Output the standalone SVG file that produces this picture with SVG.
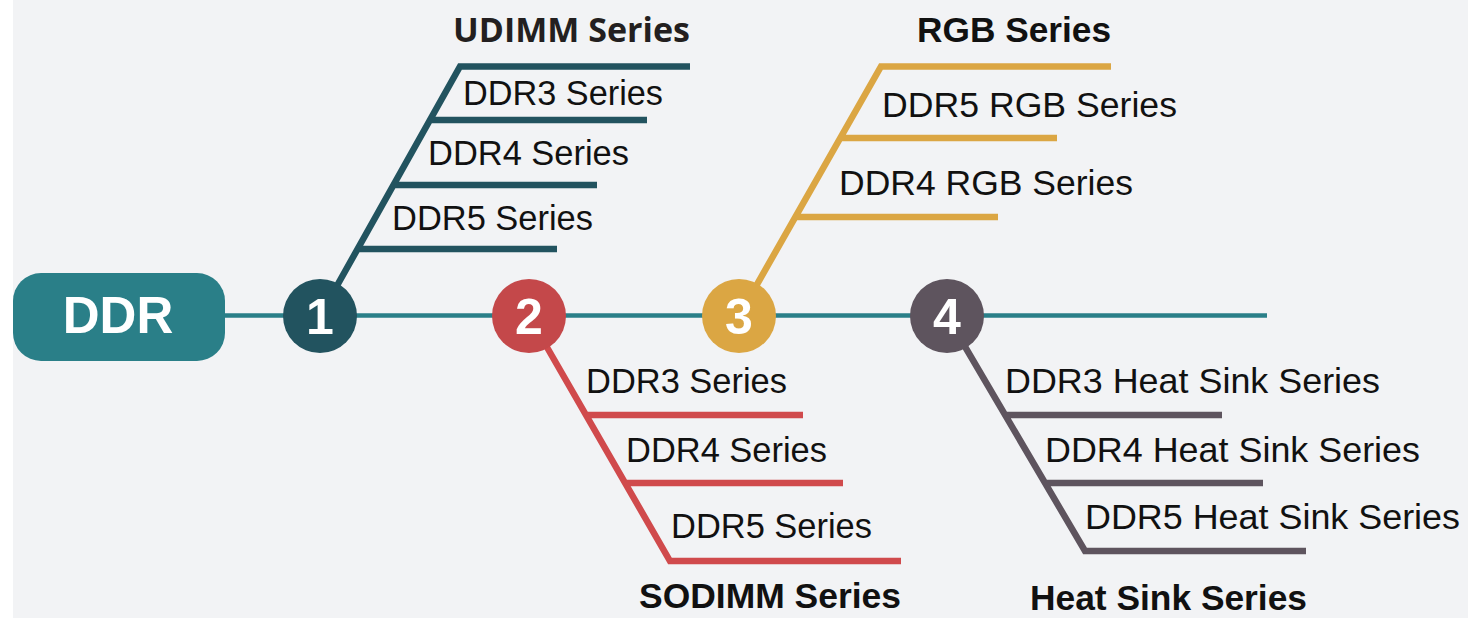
<svg xmlns="http://www.w3.org/2000/svg" width="1468" height="618" viewBox="0 0 1468 618">
<style>
.bg{fill:#F2F3F5}
.lbl{font-family:"Liberation Sans",Arial,sans-serif;font-size:35px;fill:#111}
.ttl{font-family:"Liberation Sans",Arial,sans-serif;font-size:35px;font-weight:bold;fill:#111}
.num{font-family:"Liberation Sans",Arial,sans-serif;font-size:50px;font-weight:bold;fill:#fff;text-anchor:middle}
.br{fill:none;stroke-width:6.5;stroke-linecap:butt;stroke-linejoin:miter}
.b1{stroke:#22535F}.b2{stroke:#D04A4C}.b3{stroke:#DBA643}.b4{stroke:#5E545E}
.main{stroke:#2A7F88;stroke-width:4.5}
</style>
<rect class="bg" x="13" y="0" width="1455" height="618"/>
<g id="connectors">
<line class="main" x1="225" y1="315.5" x2="1267" y2="315.5"/>
<path class="br b1" d="M320,316 L460,66.5 L690,66.5 M430,120 L647,120 M393,185 L597,185 M357,249 L557,249"/>
<path class="br b2" d="M529,316 L670,561 L901,561 M586,415 L803,415 M625,483 L843,483"/>
<path class="br b3" d="M739,316 L881,66.5 L1111,66.5 M840,138 L1057,138 M795,217 L998,217"/>
<path class="br b4" d="M947,316 L1085,551 L1306,551 M1005,415 L1222,415 M1045,483 L1263,483"/>
</g>
<g id="ddr">
<rect x="13" y="273" width="212" height="88" rx="28" fill="#2A7F88"/>
<text class="num" x="118" y="333" style="font-size:51px">DDR</text>
</g>
<g id="n1">
<circle cx="320" cy="316" r="37" fill="#22535F"/>
<text class="num" x="320" y="334">1</text>
</g>
<g id="n2">
<circle cx="529" cy="316" r="37" fill="#C4484A"/>
<text class="num" x="529" y="334">2</text>
</g>
<g id="n3">
<circle cx="739" cy="316" r="37" fill="#DBA643"/>
<text class="num" x="739" y="334">3</text>
</g>
<g id="n4">
<circle cx="947" cy="316" r="37" fill="#5E545E"/>
<text class="num" x="947" y="334">4</text>
</g>
<g id="udimm">
<text x="453" y="42" textLength="237" lengthAdjust="spacingAndGlyphs" style="font-family:'Open Sans','Liberation Sans',sans-serif;font-size:34.3px;font-weight:bold;fill:#231F20">UDIMM Series</text>
<text class="lbl" x="463" y="105" textLength="200" lengthAdjust="spacingAndGlyphs">DDR3 Series</text>
<text class="lbl" x="428" y="165" textLength="201" lengthAdjust="spacingAndGlyphs">DDR4 Series</text>
<text class="lbl" x="392" y="230" textLength="201" lengthAdjust="spacingAndGlyphs">DDR5 Series</text>
</g>
<g id="sodimm">
<text class="ttl" x="639" y="608" textLength="262" lengthAdjust="spacingAndGlyphs">SODIMM Series</text>
<text class="lbl" x="586" y="393" textLength="201" lengthAdjust="spacingAndGlyphs">DDR3 Series</text>
<text class="lbl" x="626" y="462" textLength="201" lengthAdjust="spacingAndGlyphs">DDR4 Series</text>
<text class="lbl" x="671" y="538" textLength="201" lengthAdjust="spacingAndGlyphs">DDR5 Series</text>
</g>
<g id="rgb">
<text class="ttl" x="917" y="42" textLength="194" lengthAdjust="spacingAndGlyphs">RGB Series</text>
<text class="lbl" x="882" y="117" textLength="295" lengthAdjust="spacingAndGlyphs">DDR5 RGB Series</text>
<text class="lbl" x="839" y="195" textLength="294" lengthAdjust="spacingAndGlyphs">DDR4 RGB Series</text>
</g>
<g id="heatsink">
<text class="ttl" x="1030" y="610" textLength="277" lengthAdjust="spacingAndGlyphs">Heat Sink Series</text>
<text class="lbl" x="1005" y="393" textLength="375" lengthAdjust="spacingAndGlyphs">DDR3 Heat Sink Series</text>
<text class="lbl" x="1045" y="462" textLength="375" lengthAdjust="spacingAndGlyphs">DDR4 Heat Sink Series</text>
<text class="lbl" x="1085" y="529" textLength="375" lengthAdjust="spacingAndGlyphs">DDR5 Heat Sink Series</text>
</g>
</svg>
